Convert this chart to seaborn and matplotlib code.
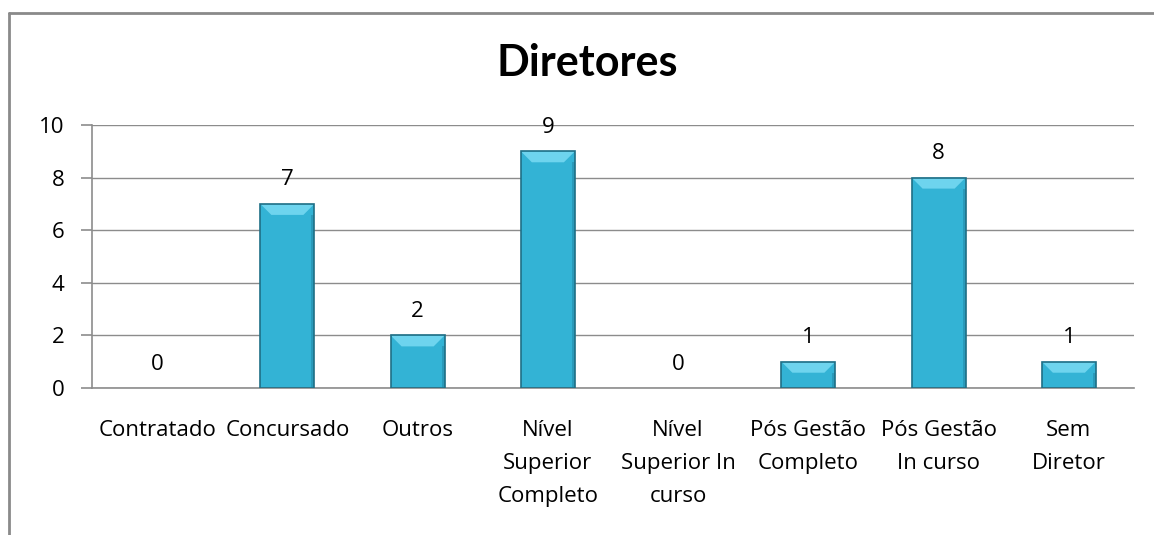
import matplotlib
matplotlib.use("Agg")
import matplotlib.pyplot as plt
import seaborn as sns
import pandas as pd
from matplotlib.patches import Rectangle, Polygon

categories = [
    "Contratado",
    "Concursado",
    "Outros",
    "Nível\nSuperior\nCompleto",
    "Nível\nSuperior In\ncurso",
    "Pós Gestão\nCompleto",
    "Pós Gestão\nIn curso",
    "Sem\nDiretor",
]
values = [0, 7, 2, 9, 0, 1, 8, 1]
y_ticks = [0, 2, 4, 6, 8, 10]

sns.set_theme(style="white")
plt.rcParams["font.family"] = ["Open Sans", "DejaVu Sans"]
plt.rcParams["text.color"] = "black"
plt.rcParams["xtick.color"] = "black"
plt.rcParams["ytick.color"] = "black"

df = pd.DataFrame({"cat": categories, "val": values})

fig = plt.figure(figsize=(11.54, 5.35), dpi=100)
W, H = 1154, 535
ax = fig.add_axes([92 / W, 1 - 388 / H, (1134 - 92) / W, (388 - 125) / H])

sns.barplot(data=df, x="cat", y="val", color="#33B3D5", width=0.415,
            linewidth=0, saturation=1, ax=ax)

ax.set_xlim(-0.5, len(categories) - 0.5)
ax.set_ylim(0, 10)

# bevel look: lighter top face and darker outline, sized in pixels
px_x = 1 / 130.25
px_y = 10 / 263
for p in list(ax.patches):
    h = p.get_height()
    if h <= 0:
        continue
    x0, w = p.get_x(), p.get_width()
    bh = min(11 * px_y, h * 0.5)
    bx = 11 * px_x
    ax.add_patch(Polygon([(x0, h), (x0 + w, h), (x0 + w - bx, h - bh), (x0 + bx, h - bh)],
                         closed=True, facecolor="#6ED4EE", edgecolor="none", zorder=3))
    ax.add_patch(Rectangle((x0 + w - 3 * px_x, 0), 3 * px_x, h - bh,
                           facecolor="#2A9ABA", edgecolor="none", zorder=3))
    ax.add_patch(Rectangle((x0, 0), w, h, facecolor="none", edgecolor="#1F6F86",
                           linewidth=1.2, zorder=4))

for i, v in enumerate(values):
    ax.annotate(str(v), (i, v), xytext=(0, 13.3), textcoords="offset points",
                ha="center", va="baseline", fontsize=16, color="black")

ax.set_yticks(y_ticks)
ax.set_yticklabels([str(t) for t in y_ticks], fontsize=16)
ax.yaxis.grid(True, color="#8C8C8C", linewidth=1)
ax.set_axisbelow(True)
ax.set_xlabel("")
ax.set_ylabel("")

ax.set_xticks(range(len(categories)))
ax.set_xticklabels(categories, fontsize=16, linespacing=1.75, va="top")
ax.tick_params(axis="x", length=0, pad=23)
# category boundary ticks
ax.set_xticks([i - 0.5 for i in range(len(categories) + 1)], minor=True)
ax.tick_params(axis="x", which="minor", length=7, color="#8C8C8C", width=1.2, direction="out")
ax.tick_params(axis="y", length=8, color="#8C8C8C", width=1.2, direction="out", pad=12, left=True)

for s in ["top", "right"]:
    ax.spines[s].set_visible(False)
for s in ["left", "bottom"]:
    ax.spines[s].set_color("#8C8C8C")
    ax.spines[s].set_linewidth(1.2)

fig.text(587 / W, 1 - 63 / H, "Diretores", ha="center", va="center",
         fontsize=31, fontweight="bold", family=["Lato", "DejaVu Sans"])

# chart frame (left and top edges visible)
fig.add_artist(plt.Line2D([9 / W, 9 / W], [0, 1 - 13 / H], transform=fig.transFigure,
                          color="#8A8A8A", linewidth=2))
fig.add_artist(plt.Line2D([9 / W, 1], [1 - 13 / H, 1 - 13 / H], transform=fig.transFigure,
                          color="#8A8A8A", linewidth=2))

fig.savefig("out.png", dpi=100)
